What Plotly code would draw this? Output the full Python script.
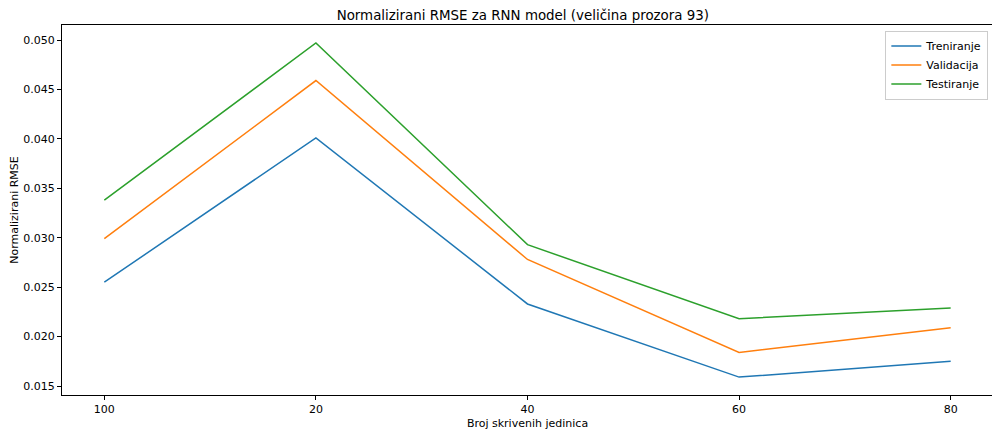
import plotly.graph_objects as go

# broj skrivenih jedinica (kategorije, redoslijed kao na slici)
units = ["100", "20", "40", "60", "80"]

train_rmse = [0.0255, 0.0401, 0.0233, 0.0159, 0.0175]
val_rmse = [0.0299, 0.0459, 0.0278, 0.0184, 0.0209]
test_rmse = [0.0338, 0.0497, 0.0293, 0.0218, 0.0229]

font_family = "DejaVu Sans"

fig = go.Figure()
fig.add_trace(go.Scatter(x=units, y=train_rmse, name="Treniranje",
                         mode="lines", line=dict(color="#1f77b4", width=1.5)))
fig.add_trace(go.Scatter(x=units, y=val_rmse, name="Validacija",
                         mode="lines", line=dict(color="#ff7f0e", width=1.5)))
fig.add_trace(go.Scatter(x=units, y=test_rmse, name="Testiranje",
                         mode="lines", line=dict(color="#2ca02c", width=1.5)))

# the page body has an 8px margin, so the figure is a bit smaller
fig.update_layout(
    width=992, height=427,
    margin=dict(l=54, r=7, t=17, b=40, autoexpand=False),
    paper_bgcolor="white", plot_bgcolor="white",
    font=dict(family=font_family, size=11, color="black"),
    title=dict(text="Normalizirani RMSE za RNN model (veličina prozora 93)",
               x=0.519, xanchor="center", y=0.984, yanchor="middle",
               font=dict(size=13.4, color="black")),
    legend=dict(x=0.995, y=0.985, xanchor="right", yanchor="top",
                bgcolor="rgba(255,255,255,0.8)", bordercolor="#cccccc",
                borderwidth=1, font=dict(size=11), tracegroupgap=0),
    showlegend=True,
)

fig.update_xaxes(
    type="category", range=[-0.2, 4.2], automargin=False,
    showline=True, linecolor="black", linewidth=1, mirror=True,
    ticks="outside", ticklen=4, tickcolor="black",
    showgrid=False, zeroline=False,
    title=dict(text="Broj skrivenih jedinica", font=dict(size=11), standoff=4),
    tickfont=dict(size=11),
)
fig.update_yaxes(
    range=[0.01409, 0.05152], automargin=False,
    tickvals=[0.015, 0.020, 0.025, 0.030, 0.035, 0.040, 0.045, 0.050],
    tickformat=".3f",
    showline=True, linecolor="black", linewidth=1, mirror=True,
    ticks="outside", ticklen=4, tickcolor="black",
    showgrid=False, zeroline=False,
    title=dict(text="Normalizirani RMSE", font=dict(size=11), standoff=6),
    tickfont=dict(size=11),
)

fig.write_html("out.html")
